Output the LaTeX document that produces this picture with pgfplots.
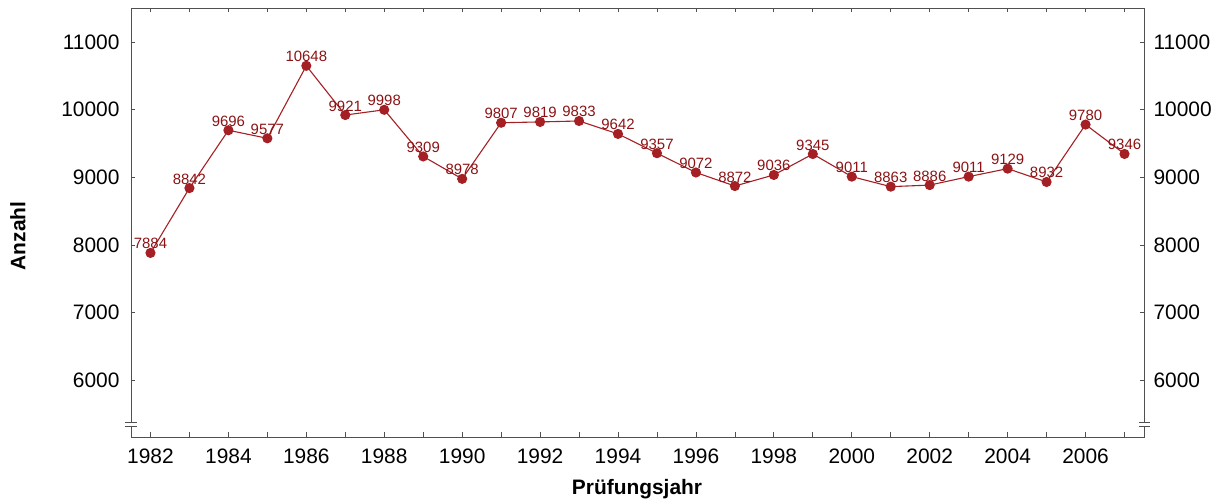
\documentclass[border=0pt]{standalone}
\usepackage{fontspec}
\setmainfont{Liberation Sans}
\usepackage{pgfplots}
\pgfplotsset{compat=1.18}
\definecolor{lineRed}{RGB}{165,32,36}
\definecolor{labRed}{RGB}{140,18,20}
\definecolor{axGray}{RGB}{80,80,80}
\begin{document}
\begin{tikzpicture}
\path[use as bounding box] (-131bp,-66bp) rectangle (1093bp,437bp);
\pgfplotsset{every axis/.append style={
  scale only axis, width=1013bp, height=429bp,
  at={(0,0)}, anchor=south west,
  xmin=1981.5, xmax=2007.5, ymin=5165, ymax=11502,
  ytick={6000,7000,...,11000},
  scaled y ticks=false, scaled x ticks=false,
  /pgf/number format/assume math mode=true,
  /pgf/number format/set thousands separator={},
  tick label style={font=\fontsize{21}{24}\selectfont, color=black},
  major tick length=4.5bp, minor tick length=4.5bp,
  tick align=inside,
  tick style={axGray, line width=0.8bp},
  axis line style={axGray, line width=0.9bp},
}}
\begin{axis}[
  xtick={1982,1984,...,2006},
  minor xtick={1983,1985,...,2007},
  xtick pos=both, ytick pos=left,
  yticklabel pos=left,
  xticklabel style={yshift=-8bp},
  yticklabel style={xshift=-8bp},
  clip=false,
]
\addplot[lineRed, line width=1.1bp, mark=*, mark size=4.5bp,
  mark options={fill=lineRed, draw=lineRed},
  nodes near coords,
  point meta=explicit symbolic,
  every node near coord/.style={anchor=base, yshift=4bp, inner sep=0pt,
     font=\fontsize{15}{17}\selectfont, color=labRed}]
table[meta=label] {
x y label
1982 7884 7884
1983 8842 8842
1984 9696 9696
1985 9577 9577
1986 10648 10648
1987 9921 9921
1988 9998 9998
1989 9309 9309
1990 8978 8978
1991 9807 9807
1992 9819 9819
1993 9833 9833
1994 9642 9642
1995 9357 9357
1996 9072 9072
1997 8872 8872
1998 9036 9036
1999 9345 9345
2000 9011 9011
2001 8863 8863
2002 8886 8886
2003 9011 9011
2004 9129 9129
2005 8932 8932
2006 9780 9780
2007 9346 9346
};
\end{axis}
\begin{axis}[
  hide x axis,
  axis y line*=right,
  ytick pos=right, yticklabel pos=right,
  yticklabel style={xshift=6bp},
  axis line style={draw=none},
]
\addplot[draw=none] coordinates {(1990,8000)};
\end{axis}
% axis breaks
\foreach \xx in {0bp,1013bp}{
  \fill[white] ([xshift=-1bp]\xx,11bp) rectangle ([xshift=1bp]\xx,15bp);
  \draw[axGray, line width=0.9bp] ([xshift=-5.5bp]\xx,11bp) -- ([xshift=5.5bp]\xx,11bp);
  \draw[axGray, line width=0.9bp] ([xshift=-5.5bp]\xx,15bp) -- ([xshift=5.5bp]\xx,15bp);
}
\node[rotate=90, font=\bfseries\fontsize{21}{24}\selectfont] at (-113bp,201bp) {Anzahl};
\node[font=\bfseries\fontsize{21}{24}\selectfont] at (506bp,-52bp) {Prüfungsjahr};
\end{tikzpicture}
\end{document}
